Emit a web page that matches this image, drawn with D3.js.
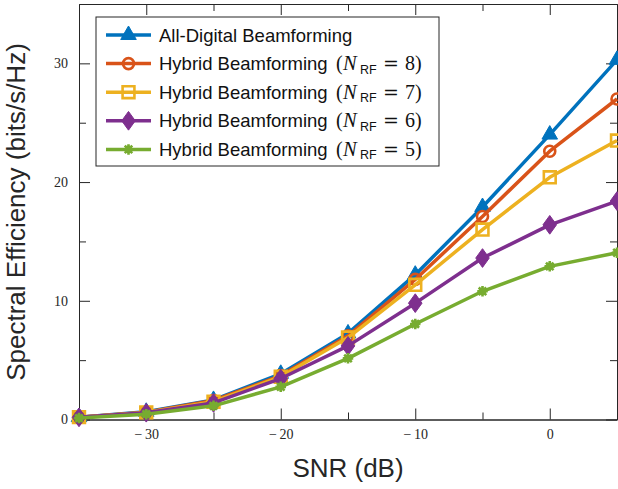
<!DOCTYPE html>
<html>
<head>
<meta charset="utf-8">
<script src="https://cdn.jsdelivr.net/npm/d3@7"></script>
<style>
  body { margin: 0; background: #fff; }
  svg { display: block; }
  .tick text { font-family: "Liberation Serif", serif; font-size: 14px; fill: #262626; }
  .axis path, .axis line { stroke: #262626; stroke-width: 1; }
</style>
</head>
<body>
<svg width="618" height="489"></svg>
<script>
// data
const snr = [-35, -30, -25, -20, -15, -10, -5, 0, 5];
const allDigital = [0.2, 0.65, 1.65, 3.85, 7.25, 12.2, 17.9, 24.0, 30.3];
const hybrid8 = [0.2, 0.62, 1.6, 3.7, 7.05, 11.8, 17.1, 22.6, 27.0];
const hybrid7 = [0.2, 0.6, 1.5, 3.6, 6.9, 11.35, 16.0, 20.4, 23.5];
const hybrid6 = [0.18, 0.57, 1.4, 3.45, 6.2, 9.8, 13.6, 16.4, 18.4];
const hybrid5 = [0.12, 0.45, 1.15, 2.75, 5.15, 8.05, 10.8, 12.9, 14.05];
const seriesNames = ["All-Digital Beamforming", "Hybrid Beamforming", "Hybrid Beamforming", "Hybrid Beamforming", "Hybrid Beamforming"];
const nrf = [null, 8, 7, 6, 5];
const xMajor = [-30, -20, -10, 0];
const xMinor = [-25, -15, -5];
const yMajor = [0, 10, 20, 30];
const yMinor = [5, 15, 25];

const svg = d3.select("svg");
const plotLeft = 79, plotRight = 617, plotTop = 4, plotBottom = 419.5;

const x = d3.scaleLinear().domain([-35, 5]).range([plotLeft, plotRight]);
const y = d3.scaleLinear().domain([0, 35]).range([plotBottom, plotTop]);

const fmt = d => d < 0 ? "\u2212\u2009" + (-d) : String(d);

// axes (ticks pointing inside, mirrored on all four sides)
const addAxis = (axis, tx, ty) => svg.append("g")
  .attr("class", "axis")
  .attr("transform", `translate(${tx},${ty})`)
  .call(axis);

addAxis(d3.axisBottom(x).tickValues(xMajor).tickSize(-11).tickSizeOuter(0).tickPadding(10).tickFormat(fmt), 0, plotBottom);
addAxis(d3.axisBottom(x).tickValues(xMinor).tickSize(-7).tickSizeOuter(0).tickFormat(""), 0, plotBottom);
addAxis(d3.axisTop(x).tickValues(xMajor).tickSize(-11).tickSizeOuter(0).tickFormat(""), 0, plotTop);
addAxis(d3.axisTop(x).tickValues(xMinor).tickSize(-7).tickSizeOuter(0).tickFormat(""), 0, plotTop);
addAxis(d3.axisLeft(y).tickValues(yMajor).tickSize(-11).tickSizeOuter(0).tickPadding(11).tickFormat(fmt), plotLeft, 0);
addAxis(d3.axisLeft(y).tickValues(yMinor).tickSize(-7).tickSizeOuter(0).tickFormat(""), plotLeft, 0);
addAxis(d3.axisRight(y).tickValues(yMajor).tickSize(-11).tickSizeOuter(0).tickFormat(""), plotRight, 0);
addAxis(d3.axisRight(y).tickValues(yMinor).tickSize(-7).tickSizeOuter(0).tickFormat(""), plotRight, 0);

// marker shapes
const tallDiamond = {
  draw(ctx, size) {
    const w = Math.sqrt(size) * 0.42, h = Math.sqrt(size) * 0.58;
    ctx.moveTo(0, -h); ctx.lineTo(w, 0); ctx.lineTo(0, h); ctx.lineTo(-w, 0); ctx.closePath();
  }
};
const star = {
  draw(ctx, size) {
    const r = Math.sqrt(size) / 2, d = r * 0.72;
    ctx.moveTo(-r, 0); ctx.lineTo(r, 0);
    ctx.moveTo(0, -r); ctx.lineTo(0, r);
    ctx.moveTo(-d, -d); ctx.lineTo(d, d);
    ctx.moveTo(-d, d); ctx.lineTo(d, -d);
  }
};

const series = [
  { values: allDigital, color: "#0072BD", type: d3.symbolTriangle, size: 105, fill: true },
  { values: hybrid8, color: "#D95319", type: d3.symbolCircle, size: 95, fill: false },
  { values: hybrid7, color: "#EDB120", type: d3.symbolSquare, size: 140, fill: false },
  { values: hybrid6, color: "#7E2F8E", type: tallDiamond, size: 260, fill: true },
  { values: hybrid5, color: "#77AC30", type: star, size: 110, fill: false, dot: true }
];

const line = d3.line().x((d, i) => x(snr[i])).y(d => y(d));

const drawMarker = (g, s, px, py) => {
  if (s.dot) {
    g.append("circle").attr("cx", px).attr("cy", py).attr("r", 3.8).attr("fill", s.color);
  }
  g.append("path")
    .attr("transform", `translate(${px},${py})`)
    .attr("d", d3.symbol().type(s.type).size(s.size)())
    .attr("fill", s.fill ? s.color : "none")
    .attr("stroke", s.color)
    .attr("stroke-width", s.fill ? 1 : 2.6);
};

series.forEach(s => {
  const g = svg.append("g");
  g.append("path")
    .attr("d", line(s.values))
    .attr("fill", "none")
    .attr("stroke", s.color)
    .attr("stroke-width", 3.5)
    .attr("stroke-linejoin", "round");
  s.values.forEach((v, i) => drawMarker(g, s, x(snr[i]), y(v)));
});

// legend
const legend = svg.append("g");
legend.append("rect")
  .attr("x", 96).attr("y", 17).attr("width", 343).attr("height", 149)
  .attr("fill", "#fff").attr("stroke", "#262626").attr("stroke-width", 1);

const serif = "'Liberation Serif', serif";
series.forEach((s, i) => {
  const ry = 35 + i * 28.6;
  const g = legend.append("g");
  g.append("line").attr("x1", 106).attr("x2", 151).attr("y1", ry).attr("y2", ry)
    .attr("stroke", s.color).attr("stroke-width", 3.5);
  drawMarker(g, s, 128.5, ry);

  const t = g.append("text")
    .attr("x", 159).attr("y", ry + 6.5)
    .attr("font-family", "'Liberation Sans', Arial, sans-serif")
    .attr("font-size", 18.5).attr("fill", "#111");
  t.append("tspan").text(seriesNames[i]);
  if (nrf[i] !== null) {
    t.append("tspan").attr("x", 336).attr("font-family", serif).attr("font-size", 20).text("(");
    t.append("tspan").attr("x", 343).attr("font-family", serif).attr("font-style", "italic").attr("font-size", 20.5).text("N");
    t.append("tspan").attr("x", 360).attr("dy", 3.5).attr("font-size", 12.5).text("RF");
    t.append("tspan").attr("x", 383).attr("dy", -3.5).attr("font-family", "'DejaVu Serif', serif").attr("font-size", 19).text("=");
    t.append("tspan").attr("x", 405).attr("font-family", serif).attr("font-size", 20).text(nrf[i] + ")");
  }
});

// axis titles
svg.append("text")
  .attr("x", (plotLeft + plotRight) / 2).attr("y", 477)
  .attr("text-anchor", "middle")
  .attr("font-family", "'Liberation Sans', Arial, sans-serif")
  .attr("font-size", 26).attr("fill", "#262626")
  .text("SNR (dB)");

svg.append("text")
  .attr("transform", "rotate(-90)")
  .attr("x", -212).attr("y", 25)
  .attr("text-anchor", "middle")
  .attr("font-family", "'Liberation Sans', Arial, sans-serif")
  .attr("font-size", 26).attr("fill", "#262626")
  .text("Spectral Efficiency (bits/s/Hz)");
</script>
</body>
</html>
